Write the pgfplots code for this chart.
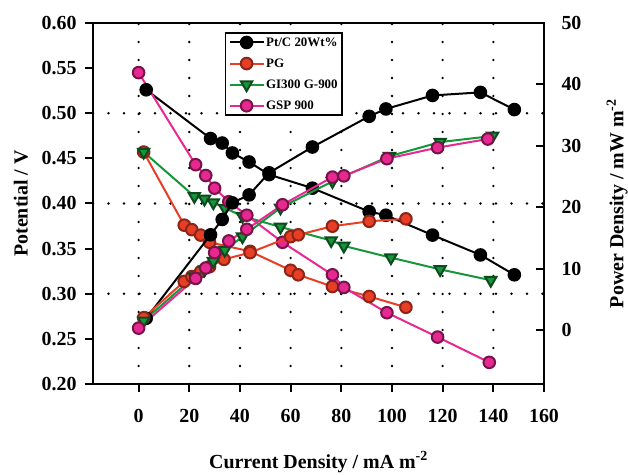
\documentclass[border=0pt]{standalone}
\usepackage{pgfplots}
\pgfplotsset{compat=1.18}
\usepackage{fontspec}
\setmainfont{Liberation Serif}

\definecolor{pgred}{RGB}{232,62,38}
\definecolor{gigreen}{RGB}{22,150,58}
\definecolor{gsppink}{RGB}{232,40,145}

\pgfplotsset{
  fcaxis/.style={
    scale only axis, width=451bp, height=361bp,
    xmin=-18, xmax=160,
    axis line style={line width=2.2bp},
    tick style={line width=2bp, black},
    major tick length=8bp,
    ticklabel style={font=\fontsize{20}{22}\selectfont\bfseries},
    /pgf/number format/assume math mode=true,
  },
  pc/.style={line width=2bp, mark size=5.8bp, mark options={solid, line width=0.8bp}},
}

\begin{document}
\begin{tikzpicture}
\useasboundingbox (-93bp,-91bp) rectangle (535bp,384bp);
\begin{axis}[
  fcaxis,
  ymin=0.2, ymax=0.6,
  xtick={0,20,40,60,80,100,120,140,160},
  ytick={0.20,0.25,0.30,0.35,0.40,0.45,0.50,0.55,0.60},
  xtick pos=bottom, ytick pos=left, tick align=outside,
  yticklabel style={/pgf/number format/fixed, /pgf/number format/fixed zerofill,
    /pgf/number format/precision=2, xshift=-5bp},
  xticklabel style={yshift=-14bp},
  extra x ticks={0,20,40,60,80,100,120,140},
  extra x tick labels={},
  extra x tick style={major tick length=0pt, grid=major,
    major grid style={black, line width=2.6bp, line cap=round, dash pattern=on 0pt off 18bp}},
  extra y ticks={0.30,0.40,0.50},
  extra y tick labels={},
  extra y tick style={major tick length=0pt, grid=major,
    major grid style={black, line width=2.6bp, line cap=round, dash pattern=on 0pt off 15.5bp}},
  xlabel={Current Density / mA m\textsuperscript{-2}},
  ylabel={Potential / V},
  every axis x label/.style={at={(axis description cs:0.5,0)}, anchor=center, yshift=-78bp,
    font=\fontsize{20}{22}\selectfont\bfseries},
  every axis y label/.style={at={(axis description cs:-0.16,0.5)}, anchor=center, rotate=90,
    font=\fontsize{20}{22}\selectfont\bfseries},
  legend style={at={(0.292,0.975)}, anchor=north west, draw=black, line width=1.8bp,
    font=\fontsize{13}{15}\selectfont\bfseries, inner sep=3bp, row sep=8bp,
    nodes={inner sep=1.5bp}},
  legend cell align=left,
  legend image code/.code={
    \draw[mark repeat=2, mark phase=2] plot coordinates {(0bp,0bp) (17bp,0bp) (34bp,0bp)};},
]
\addplot[pc, black, mark=*, mark options={fill=black}] coordinates {
  (3,0.526) (28.4,0.472) (33,0.467) (37,0.456) (43.6,0.446) (51.5,0.432)
  (68.6,0.417) (91,0.391) (97.6,0.387) (116,0.365) (134.9,0.343) (148.3,0.321)
};
\addlegendentry{Pt/C 20Wt\%}
\addplot[pc, pgred, mark=*, mark options={fill=pgred, draw=pgred!60!black}] coordinates {
  (2,0.457) (18,0.376) (21,0.371) (24.5,0.365) (28,0.357) (44,0.347)
  (60,0.326) (63,0.321) (76.5,0.308) (91,0.297) (105.5,0.285)
};
\addlegendentry{PG}
\addplot[pc, gigreen, mark=triangle*, mark size=6.5bp, mark options={rotate=180, fill=gigreen, draw=gigreen!50!black}] coordinates {
  (2,0.457) (22,0.408) (26,0.405) (29.5,0.401) (34,0.395) (41,0.386) (56,0.374)
  (76,0.359) (81,0.353) (99.6,0.340) (119,0.327) (139,0.315)
};
\addlegendentry{GI300 G-900}
\addplot[pc, gsppink, mark=*, mark options={fill=gsppink, draw=gsppink!50!black}] coordinates {
  (0,0.545) (22.5,0.443) (26.5,0.431) (30,0.417) (35.6,0.402) (42.7,0.387)
  (56.8,0.357) (76.5,0.321) (81,0.307) (98,0.279) (118,0.252) (138.4,0.224)
};
\addlegendentry{GSP 900}
\end{axis}

\begin{axis}[
  fcaxis,
  ymin=-8.8, ymax=50,
  axis x line=none, axis y line*=right,
  ytick={0,10,20,30,40,50},
  tick align=inside,
  yticklabel style={xshift=14bp},
  ylabel={Power Density / mW m\textsuperscript{-2}},
  every axis y label/.style={at={(axis description cs:1.162,0.5)}, anchor=center, rotate=90,
    font=\fontsize{20}{22}\selectfont\bfseries},
]
\addplot[pc, black, mark=*, mark options={fill=black}] coordinates {
  (3,1.9) (28.4,15.5) (33,18) (37,20.7) (43.6,22) (51.5,25.6)
  (68.6,29.8) (91,34.8) (97.6,36) (116,38.2) (134.9,38.7) (148.3,35.9)
};
\addplot[pc, pgred, mark=*, mark options={fill=pgred, draw=pgred!60!black}] coordinates {
  (2,2) (18,7.9) (21,8.7) (24.5,9.5) (28,10.3) (33.7,11.5) (44,12.6)
  (60,15.2) (63,15.5) (76.5,16.9) (91,17.7) (105.5,18.1)
};
\addplot[pc, gigreen, mark=triangle*, mark size=6.5bp, mark options={rotate=180, fill=gigreen, draw=gigreen!50!black}] coordinates {
  (2,1.5) (22,8.7) (26,9.8) (29.5,11.2) (34,13) (41,15.2) (56,19.9)
  (76.5,24.2) (99,28.3) (119,30.6) (139.7,31.6)
};
\addplot[pc, gsppink, mark=*, mark options={fill=gsppink, draw=gsppink!50!black}] coordinates {
  (0,0.3) (22.5,8.4) (26.5,10.1) (30,12.6) (35.6,14.5) (42.7,16.4)
  (56.8,20.4) (76.5,24.9) (81,25.1) (98,27.9) (118,29.7) (137.8,31.1)
};
\end{axis}
\end{tikzpicture}
\end{document}
